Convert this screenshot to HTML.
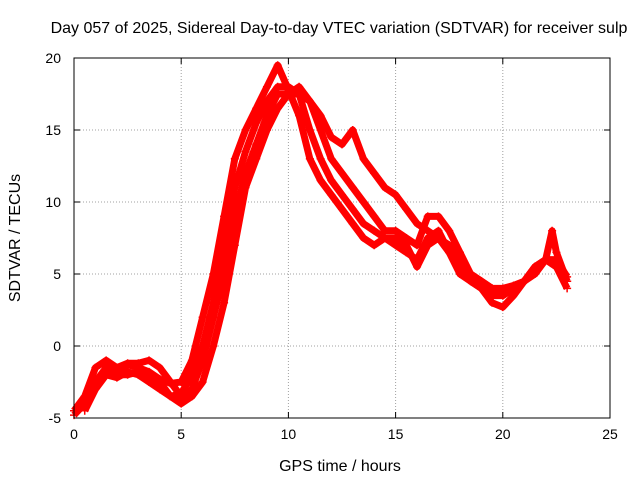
<!DOCTYPE html>
<html><head><meta charset="utf-8"><style>
body{margin:0;background:#fff;}
svg text{font-family:"Liberation Sans",sans-serif;fill:#000;}
</style></head><body>
<svg id="chart" width="640" height="480" xmlns="http://www.w3.org/2000/svg">
<text x="339" y="33" font-size="16" text-anchor="middle">Day 057 of 2025, Sidereal Day-to-day VTEC variation (SDTVAR) for receiver sulp</text>
<text x="340" y="471" font-size="16" text-anchor="middle">GPS time / hours</text>
<text x="0" y="0" font-size="16" text-anchor="middle" transform="translate(20,238) rotate(-90)">SDTVAR / TECUs</text>
<g id="grid"></g><g id="series"></g><g id="axes"></g>
</svg>
<script>
const xTicks=[0,5,10,15,20,25];
const yTicks=[-5,0,5,10,15,20];
const trackA=[[0,-4.8],[0.5,-4],[1,-2.5],[1.5,-1.5],[2,-1.8],[2.5,-1.3],[3,-1.5],[3.5,-1.8],[4,-2.3],[4.5,-2.6],[5,-2.5],[5.5,-1],[6,2],[6.5,5],[7,9],[7.5,13],[8,15],[8.5,16.5],[9,18],[9.5,19.5],[10,17.8],[10.5,16],[11,13],[11.5,11.5],[12,10.5],[12.5,9.5],[13,8.5],[13.5,7.5],[14,7],[14.5,7.5],[15,7.5],[15.5,7],[16,5.5],[16.5,7],[17,7.5],[17.5,6.5],[18,5],[18.5,4.5],[19,4],[19.5,3.5],[20,3.5],[20.5,4],[21,4.5],[21.5,5.5],[22,6],[22.5,5.5],[23,4]];
const trackB=[[0.5,-4.5],[1,-3],[1.5,-2],[2,-2.2],[2.5,-1.8],[3,-2],[3.5,-2.5],[4,-3],[4.5,-3.5],[5,-3.3],[5.5,-2],[6,0],[6.5,3],[7,7],[7.5,11],[8,13.5],[8.5,15.5],[9,17],[9.5,18],[10,18],[10.5,17.5],[11,15],[11.5,13],[12,11.5],[12.5,10.5],[13,9.5],[13.5,8.5],[14,8],[14.5,7.5],[15,7],[15.5,6.5],[16,6],[16.5,7.5],[17,8],[17.5,6.5],[18,5.5],[18.5,4.5],[19,4],[19.5,3],[20,2.7],[20.5,3.5],[21,4.5],[21.5,5.5],[22,6],[22.3,8],[22.5,6.5],[23,4.5]];
const trackC=[[0,-4.5],[0.5,-3.5],[1,-1.5],[1.5,-1],[2,-1.5],[2.5,-1.2],[3,-1.2],[3.5,-1],[4,-1.5],[4.5,-2.5],[5,-3.5],[5.5,-3],[6,-1],[6.5,2],[7,5],[7.5,9],[8,12],[8.5,14],[9,16],[9.5,17.5],[10,17.5],[10.5,18],[11,17],[11.5,15],[12,13],[12.5,12],[13,11],[13.5,10],[14,9],[14.5,8],[15,8],[15.5,7.5],[16,7],[16.5,9],[17,9],[17.5,8],[18,6.5],[18.5,5],[19,4.5],[19.5,4],[20,4],[20.5,4.2],[21,4.5],[21.5,5],[22,6],[22.5,6],[23,4.8]];
const trackD=[[1,-2.5],[1.5,-2],[2,-2],[2.5,-2],[3,-1.8],[3.5,-2],[4,-2.5],[4.5,-3.5],[5,-4],[5.5,-3.5],[6,-2.5],[6.5,0],[7,3],[7.5,7],[8,11],[8.5,13],[9,15],[9.5,16.5],[10,17.5],[10.5,17.5],[11,17],[11.5,16],[12,14.5],[12.5,14],[13,15],[13.5,13],[14,12],[14.5,11],[15,10.5],[15.5,9.5],[16,8.5],[16.5,8],[17,7.5],[17.5,7],[18,6],[18.5,5],[19,4.5],[19.5,4],[20,3.5],[20.5,4],[21,4.5],[21.5,5.5],[22,6],[22.5,5.5],[23,4.5]];
const tracks=[trackA,trackB,trackC,trackD];
const X0=74,X1=610,Y0=418,Y1=58;
const sx=v=>X0+(v-0)/(25-0)*(X1-X0);
const sy=v=>Y0-(v+5)/(20+5)*(Y0-Y1);
const NS="http://www.w3.org/2000/svg";
const mk=(t,a,p)=>{const e=document.createElementNS(NS,t);for(const k in a)e.setAttribute(k,a[k]);p.appendChild(e);return e;};
const grid=document.getElementById('grid'),axes=document.getElementById('axes'),ser=document.getElementById('series');
xTicks.forEach(t=>{
  if(t>0&&t<25){const g=mk('line',{x1:sx(t),x2:sx(t),y1:Y1,y2:Y0,stroke:'#a0a0a0','stroke-dasharray':'1,2'},grid);
  }
  const l=mk('text',{x:sx(t),y:Y0+21,'font-size':14,'text-anchor':'middle'},axes);l.textContent=t;
  
  mk('line',{x1:sx(t),x2:sx(t),y1:Y0,y2:Y0-6,stroke:'#000'},axes);
  mk('line',{x1:sx(t),x2:sx(t),y1:Y1,y2:Y1+6,stroke:'#000'},axes);
});
yTicks.forEach(t=>{
  if(t>-5&&t<20){const g=mk('line',{x1:X0,x2:X1,y1:sy(t),y2:sy(t),stroke:'#a0a0a0','stroke-dasharray':'1,2'},grid);
  }
  const l=mk('text',{x:X0-13,y:sy(t)+5,'font-size':14,'text-anchor':'end'},axes);l.textContent=t;
  
  mk('line',{x1:X0,x2:X0+6,y1:sy(t),y2:sy(t),stroke:'#000'},axes);
  mk('line',{x1:X1,x2:X1-6,y1:sy(t),y2:sy(t),stroke:'#000'},axes);
});
const frame=mk('rect',{x:X0,y:Y1,width:X1-X0,height:Y0-Y1,fill:'none',stroke:'#000'},axes);

tracks.forEach((tr,i)=>{
  const pl=mk('polyline',{points:tr.map(p=>sx(p[0])+','+sy(p[1])).join(' '),fill:'none',stroke:'#ff0000','stroke-width':7,'stroke-linejoin':'round'},ser);
  
  
  tr.forEach(p=>{
    const m=mk('path',{d:`M${sx(p[0])-4},${sy(p[1])}h8M${sx(p[0])},${sy(p[1])-4}v8`,stroke:'#ff0000','stroke-width':1.5},ser);
    
    
  });
});
</script>
</body></html>
